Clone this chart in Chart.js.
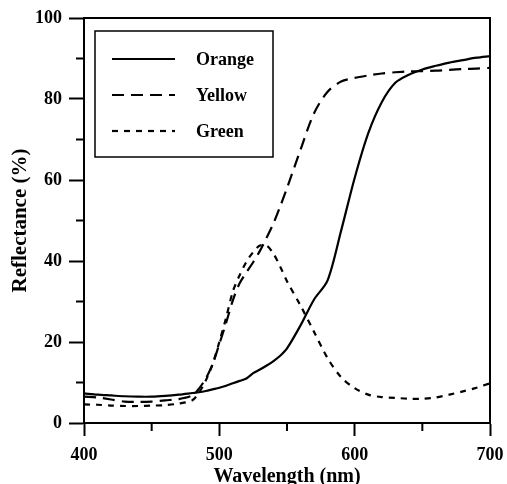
<!DOCTYPE html>
<html>
<head>
<meta charset="utf-8">
<script src="https://cdn.jsdelivr.net/npm/chart.js@4/dist/chart.umd.min.js"></script>
<style>
  html, body { margin:0; padding:0; background:#fff; }
  #c { display:block; }
</style>
</head>
<body>
<canvas id="c" width="507" height="484"></canvas>
<script>
// reflectance spectra
const wavelength = [400,410,420,430,440,450,460,470,480,485,490,495,500,505,510,515,520,525,530,535,540,545,550,560,570,580,590,600,610,620,630,640,650,660,670,680,690,700];
const orange = [7.3,7.0,6.8,6.6,6.5,6.5,6.7,7.0,7.4,7.6,7.9,8.3,8.7,9.2,9.8,10.4,11.0,12.3,13.2,14.2,15.3,16.6,18.4,24.1,30.5,35.2,47.5,60.5,71.5,79.2,84.0,86.0,87.3,88.2,89.0,89.6,90.2,90.6];
const yellow = [6.5,6.3,5.8,5.3,5.2,5.3,5.6,5.9,6.8,8.5,11.0,14.5,19.5,24.7,30.3,34.5,37.2,39.7,42.5,45.8,49.3,53.5,58.0,67.5,76.5,81.8,84.3,85.2,85.8,86.3,86.6,86.8,86.9,87.0,87.2,87.4,87.5,87.7];
const green = [4.6,4.5,4.3,4.2,4.2,4.3,4.4,4.8,5.6,7.5,10.5,14.5,20.0,26.0,32.5,36.5,39.8,42.2,43.8,43.8,41.8,38.6,35.0,29.0,22.5,16.0,11.3,8.6,7.0,6.4,6.2,6.0,6.0,6.3,7.0,7.8,8.7,9.8];
const xTicks = [400,500,600,700];
const yTicks = [0,20,40,60,80,100];

const FONT = '"Liberation Serif", "Times New Roman", serif';
const pts = (arr) => arr.map((v,i)=>({ x: wavelength[i], y: v }));

// top/right frame + minor tick marks
const framePlugin = {
  id: 'frame',
  afterDraw(chart) {
    const { ctx, chartArea: a, scales: { x, y } } = chart;
    ctx.save();
    ctx.strokeStyle = '#000';
    ctx.lineWidth = 2;
    ctx.beginPath();
    ctx.moveTo(a.left, a.top); ctx.lineTo(a.right, a.top); ctx.lineTo(a.right, a.bottom);
    ctx.stroke();
    x.ticks.forEach((t) => {
      if (xTicks.includes(t.value)) return;
      const px = x.getPixelForValue(t.value);
      ctx.beginPath(); ctx.moveTo(px, a.bottom); ctx.lineTo(px, a.bottom + 8); ctx.stroke();
    });
    y.ticks.forEach((t) => {
      if (yTicks.includes(t.value)) return;
      const py = y.getPixelForValue(t.value);
      ctx.beginPath(); ctx.moveTo(a.left, py); ctx.lineTo(a.left - 8, py); ctx.stroke();
    });
    ctx.restore();
  }
};

// boxed legend inside the plot, upper left
const boxLegend = {
  id: 'boxLegend',
  afterDraw(chart) {
    const { ctx, chartArea: a } = chart;
    const bx = a.left + 11, by = a.top + 13, bw = 178, bh = 126;
    ctx.save();
    ctx.fillStyle = '#fff';
    ctx.fillRect(bx, by, bw, bh);
    ctx.strokeStyle = '#000';
    ctx.lineWidth = 1.5;
    ctx.strokeRect(bx, by, bw, bh);
    chart.data.datasets.forEach((ds, i) => {
      const ry = by + 28 + i * 36;
      ctx.beginPath();
      ctx.setLineDash(ds.borderDash || []);
      ctx.lineWidth = ds.borderWidth;
      ctx.moveTo(bx + 17, ry); ctx.lineTo(bx + 80, ry);
      ctx.stroke();
      ctx.setLineDash([]);
      ctx.fillStyle = '#000';
      ctx.font = 'bold 18px ' + FONT;
      ctx.textBaseline = 'middle';
      ctx.fillText(ds.label, bx + 101, ry + 1);
    });
    ctx.restore();
  }
};

new Chart(document.getElementById('c'), {
  type: 'line',
  data: {
    datasets: [
      { label:'Orange', data:pts(orange), borderColor:'#000', borderWidth:2.2, borderDash:[], pointRadius:0, fill:false, tension:0.3 },
      { label:'Yellow', data:pts(yellow), borderColor:'#000', borderWidth:2.2, borderDash:[12,7], pointRadius:0, fill:false, tension:0.3 },
      { label:'Green', data:pts(green), borderColor:'#000', borderWidth:2.2, borderDash:[6,6], pointRadius:0, fill:false, tension:0.3 },
    ]
  },
  options: {
    responsive:false, animation:false,
    layout:{ padding:{ top:18, right:17, left:0, bottom:0 } },
    plugins:{ legend:{ display:false }, tooltip:{ enabled:false } },
    scales:{
      x:{
        type:'linear', min:400, max:700,
        afterFit:(s)=>{ s.height = 61; s.paddingLeft = 0; s.paddingRight = 0; },
        border:{ display:true, color:'#000', width:2 },
        grid:{ drawOnChartArea:false, tickLength:13, tickWidth:2,
          tickColor:(c)=> xTicks.includes(c.tick?.value) ? '#000' : 'rgba(0,0,0,0)' },
        ticks:{ stepSize:50, autoSkip:false, maxRotation:0, padding:9, color:'#000',
          font:{ family:FONT, size:18, weight:'bold' },
          callback:(v)=> xTicks.includes(v) ? String(v) : '' },
        title:{ display:true, text:'Wavelength (nm)', color:'#000', padding:{ top:0, bottom:0 },
          font:{ family:FONT, size:20, weight:'bold', lineHeight:0.75 } }
      },
      y:{
        min:0, max:100,
        afterFit:(s)=>{ s.width = 84; s.paddingTop = 0; s.paddingBottom = 0; },
        border:{ display:true, color:'#000', width:2 },
        grid:{ drawOnChartArea:false, tickLength:15, tickWidth:2,
          tickColor:(c)=> yTicks.includes(c.tick?.value) ? '#000' : 'rgba(0,0,0,0)' },
        ticks:{ stepSize:10, autoSkip:false, padding:7, color:'#000',
          font:{ family:FONT, size:18, weight:'bold' },
          callback:(v)=> yTicks.includes(v) ? String(v) : '' },
        title:{ display:true, text:'Reflectance (%)', color:'#000', padding:{ top:10, bottom:0 },
          font:{ family:FONT, size:21, weight:'bold', lineHeight:1 } }
      }
    }
  },
  plugins:[framePlugin, boxLegend]
});
</script>
</body>
</html>
